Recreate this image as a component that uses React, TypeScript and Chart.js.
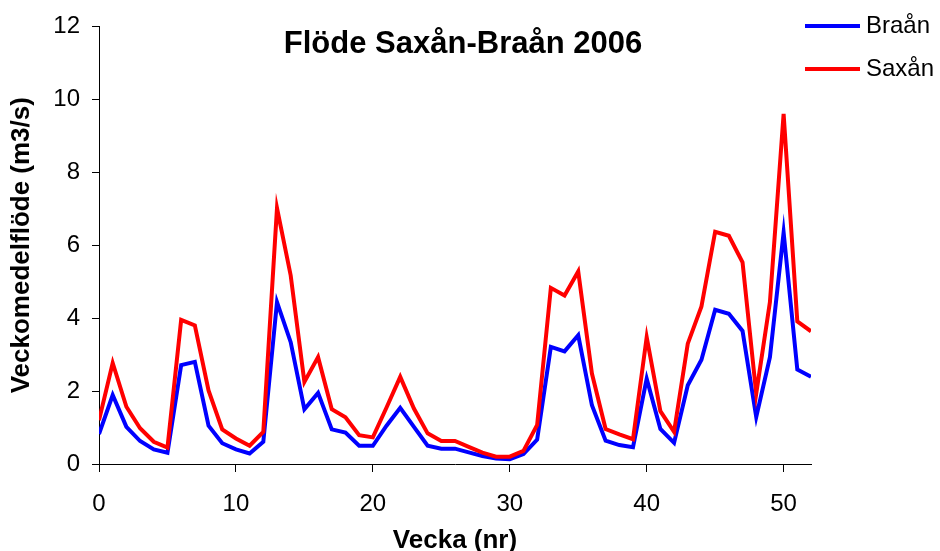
import React, { useEffect, useRef } from "react";
import { Chart, registerables } from "chart.js";

Chart.register(...registerables);

const weeks = [0,1,2,3,4,5,6,7,8,9,10,11,12,13,14,15,16,17,18,19,20,21,22,23,24,25,26,27,28,29,30,31,32,33,34,35,36,37,38,39,40,41,42,43,44,45,46,47,48,49,50,51,52];
const braan = [0.82,1.89,1.02,0.63,0.40,0.31,2.71,2.80,1.05,0.57,0.40,0.29,0.61,4.44,3.34,1.50,1.95,0.95,0.86,0.50,0.50,1.05,1.54,1.02,0.50,0.42,0.42,0.32,0.22,0.15,0.13,0.27,0.67,3.21,3.09,3.53,1.61,0.64,0.52,0.46,2.34,0.96,0.58,2.16,2.86,4.23,4.12,3.65,1.29,2.93,6.35,2.59,2.39];
const saxan = [1.20,2.77,1.57,0.98,0.61,0.45,3.95,3.80,2.02,0.95,0.70,0.50,0.88,7.02,5.17,2.25,2.93,1.50,1.28,0.79,0.73,1.55,2.39,1.52,0.84,0.63,0.63,0.47,0.31,0.20,0.20,0.36,1.07,4.83,4.62,5.28,2.48,0.96,0.81,0.68,3.48,1.45,0.88,3.30,4.32,6.37,6.26,5.53,1.93,4.44,9.60,3.91,3.64];
const seriesNames = ["Braån", "Saxån"];
const chartTitle = "Flöde Saxån-Braån 2006";
const xTitle = "Vecka (nr)";
const yTitle = "Veckomedelflöde (m3/s)";

const FONT = "Arial, 'Liberation Sans', sans-serif";

const overlayPlugin = {
  id: "overlay",
  afterDraw(chart: any) {
    const ctx = chart.ctx;
    ctx.save();
    // title
    ctx.fillStyle = "#000";
    ctx.font = `bold 31px ${FONT}`;
    ctx.textAlign = "center";
    ctx.textBaseline = "middle";
    ctx.fillText(chartTitle, 463, 44);
    // legend
    ctx.font = `24px ${FONT}`;
    ctx.textAlign = "left";
    chart.data.datasets.forEach((ds: any, i: number) => {
      const y = 26 + i * 43;
      ctx.strokeStyle = ds.borderColor;
      ctx.lineWidth = 4;
      ctx.beginPath();
      ctx.moveTo(805, y);
      ctx.lineTo(860, y);
      ctx.stroke();
      ctx.fillStyle = "#000";
      ctx.fillText(ds.label, 866, y);
    });
    ctx.restore();
  },
};

export default function App() {
  const ref = useRef<HTMLCanvasElement | null>(null);
  useEffect(() => {
    document.body.style.margin = "0";
    const canvas = ref.current!;
    const chart = new Chart(canvas, {
      type: "line",
      data: {
        datasets: [
          {
            label: seriesNames[0],
            data: weeks.map((w, i) => ({ x: w, y: braan[i] })),
            borderColor: "#0000ff",
            borderWidth: 4,
            pointRadius: 0,
            tension: 0,
            order: 1,
          },
          {
            label: seriesNames[1],
            data: weeks.map((w, i) => ({ x: w, y: saxan[i] })),
            borderColor: "#ff0000",
            borderWidth: 4,
            pointRadius: 0,
            tension: 0,
            order: 0,
          },
        ],
      },
      options: {
        responsive: false,
        animation: false,
        layout: { padding: { left: 0, right: 129, top: 25, bottom: 0 } },
        plugins: {
          legend: { display: false },
          tooltip: { enabled: false },
          title: { display: false },
        },
        scales: {
          x: {
            type: "linear",
            min: 0,
            max: 52,
            afterFit: (s: any) => { s.height = 87; },
            afterBuildTicks: (s: any) => { s.ticks = s.ticks.filter((t: any) => t.value % 10 === 0); },
            ticks: {
              stepSize: 10,
              includeBounds: false,
              color: "#000",
              font: { family: FONT, size: 24 },
              padding: 18,
              maxRotation: 0,
            },
            grid: { drawOnChartArea: false, drawTicks: true, tickLength: 8, color: "#000", lineWidth: 1 },
            border: { display: true, color: "#000", width: 1 },
            title: {
              display: true,
              text: xTitle,
              color: "#000",
              font: { family: FONT, size: 26, weight: "bold", lineHeight: 0.8 },
              padding: { top: 0, bottom: 0 },
            },
          },
          y: {
            min: 0,
            max: 12,
            afterFit: (s: any) => { s.width = 99; },
            ticks: {
              stepSize: 2,
              color: "#000",
              font: { family: FONT, size: 24 },
              padding: 12,
            },
            grid: { drawOnChartArea: false, drawTicks: true, tickLength: 7, color: "#000", lineWidth: 1 },
            border: { display: true, color: "#000", width: 1 },
            title: {
              display: true,
              text: yTitle,
              color: "#000",
              font: { family: FONT, size: 26, weight: "bold", lineHeight: 1 },
              padding: { top: 9, bottom: 0 },
            },
          },
        },
      },
      plugins: [overlayPlugin],
    } as any);
    return () => chart.destroy();
  }, []);
  return <canvas ref={ref} width={940} height={551} style={{ display: "block" }} />;
}
